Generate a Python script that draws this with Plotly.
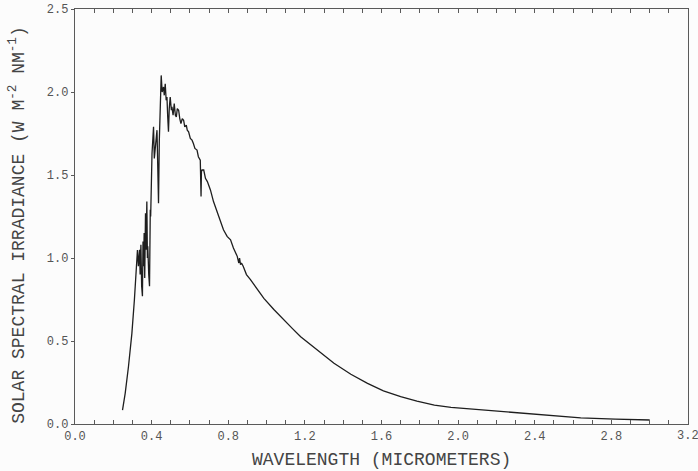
import plotly.graph_objects as go

wavelength_um = [
    0.248, 0.262, 0.279, 0.297, 0.310, 0.321, 0.326, 0.331, 0.337, 0.340,
    0.344, 0.348, 0.352, 0.355, 0.358, 0.361, 0.364, 0.368, 0.371, 0.375,
    0.378, 0.380, 0.385, 0.389, 0.393, 0.395, 0.402, 0.406, 0.410, 0.414,
    0.419, 0.423, 0.428, 0.432, 0.436, 0.440, 0.445, 0.450, 0.455, 0.462,
    0.466, 0.471, 0.476, 0.480, 0.484, 0.488, 0.492, 0.497, 0.503, 0.506,
    0.512, 0.518, 0.524, 0.529, 0.534, 0.541, 0.547, 0.553, 0.560, 0.567,
    0.573, 0.581, 0.586, 0.593, 0.602, 0.611, 0.618, 0.626, 0.637, 0.644,
    0.654, 0.657, 0.658, 0.660, 0.663, 0.672, 0.681, 0.691, 0.707, 0.723,
    0.742, 0.759, 0.775, 0.794, 0.812, 0.827, 0.847, 0.855, 0.859, 0.864,
    0.869, 0.878, 0.895, 0.916, 0.951, 0.986, 1.038, 1.073, 1.134, 1.178,
    1.260, 1.352, 1.440, 1.527, 1.610, 1.700, 1.785, 1.876, 1.963, 2.050,
    2.120, 2.225, 2.295, 2.470, 2.640, 2.820, 3.000,
]
irradiance = [
    0.084, 0.185, 0.345, 0.546, 0.747, 0.928, 1.048, 0.95, 1.05, 0.90,
    1.08, 0.83, 0.77, 1.10, 0.95, 1.15, 0.88, 1.27, 1.05, 1.34,
    1.00, 1.07, 0.90, 0.83, 1.29, 1.25, 1.63, 1.72, 1.79, 1.60,
    1.67, 1.74, 1.77, 1.55, 1.33, 1.70, 1.95, 2.10, 2.00, 2.03,
    1.98, 2.05, 1.95, 1.97, 1.85, 1.76, 1.90, 1.97, 1.89, 1.91,
    1.86, 1.93, 1.86, 1.85, 1.90, 1.89, 1.84, 1.81, 1.84, 1.83,
    1.79, 1.80, 1.77, 1.76, 1.72, 1.71, 1.69, 1.66, 1.65, 1.61,
    1.59, 1.45, 1.37, 1.52, 1.53, 1.53, 1.48, 1.46, 1.41, 1.34,
    1.28, 1.22, 1.17, 1.13, 1.11, 1.06, 1.01, 0.97, 1.00, 0.96,
    0.97, 0.95, 0.90, 0.87, 0.81, 0.757, 0.69, 0.646, 0.576, 0.526,
    0.45, 0.366, 0.30, 0.245, 0.20, 0.165, 0.138, 0.114, 0.100, 0.092,
    0.085, 0.075, 0.066, 0.050, 0.037, 0.029, 0.024,
]

x_tick_vals = [0.0, 0.4, 0.8, 1.2, 1.6, 2.0, 2.4, 2.8, 3.2]
x_tick_text = ["0.0", "0.4", "0.8", "1.2", "1.6", "2.0", "2.4", "2.8", "3.2"]
y_tick_vals = [0.0, 0.5, 1.0, 1.5, 2.0, 2.5]
y_tick_text = ["0.0", "0.5", "1.0", "1.5", "2.0", "2.5"]
x_title = "WAVELENGTH (MICROMETERS)"
y_title = "SOLAR SPECTRAL IRRADIANCE (W M<sup>-2</sup> NM<sup>-1</sup>)"

FONT = "Liberation Mono, DejaVu Sans Mono, monospace"
AXC = "#5a5a5a"
TICKFONT = dict(size=12, color="#555555", family=FONT)

fig = go.Figure()
fig.add_trace(go.Scatter(
    x=wavelength_um, y=irradiance, mode="lines",
    line=dict(color="#1e1e1e", width=1.3),
    showlegend=False, hoverinfo="skip",
))

fig.update_layout(
    width=698, height=471,
    margin=dict(l=75, r=10, t=9, b=47, autoexpand=False),
    paper_bgcolor="#fcfcfc", plot_bgcolor="#fcfcfc",
    font=dict(family=FONT, color="#4a4a4a"),
)
fig.update_xaxes(
    range=[0, 3.2], tickvals=x_tick_vals[:-1], ticktext=x_tick_text[:-1], automargin=False,
    showgrid=False, zeroline=False, showline=True, linecolor=AXC, linewidth=1.2,
    mirror="ticks", ticks="inside", ticklen=4, tickcolor=AXC, tickwidth=1,
    minor=dict(dtick=0.1, ticks="inside", ticklen=4, tickcolor=AXC, tickwidth=1),
    tickfont=TICKFONT,
)
fig.update_yaxes(
    range=[0, 2.5], tickvals=y_tick_vals, ticktext=y_tick_text, automargin=False,
    showgrid=False, zeroline=False, showline=True, linecolor=AXC, linewidth=1.2,
    mirror=True, ticks="outside", ticklen=3, tickcolor=AXC, tickwidth=1,
    tickfont=TICKFONT,
)
# last x tick label (partly beyond the page edge, as in the reference)
fig.add_annotation(
    text=x_tick_text[-1], xref="x", yref="paper", x=x_tick_vals[-1], y=0,
    yshift=-12, xanchor="center", yanchor="middle", showarrow=False,
    font=TICKFONT,
)
fig.add_annotation(
    text=x_title, xref="paper", yref="paper", x=0.5, y=-0.087,
    xanchor="center", yanchor="middle", showarrow=False,
    font=dict(size=18, color="#444444", family=FONT),
)
fig.add_annotation(
    text=y_title, xref="paper", yref="paper", x=-0.093, y=0.48,
    xanchor="center", yanchor="middle", textangle=-90, showarrow=False,
    font=dict(size=18, color="#444444", family=FONT),
)

fig.write_html(
    "out.html",
    config={"displayModeBar": False, "staticPlot": True},
    post_script="document.body.style.margin='0';document.body.style.background='#fcfcfc';",
)
